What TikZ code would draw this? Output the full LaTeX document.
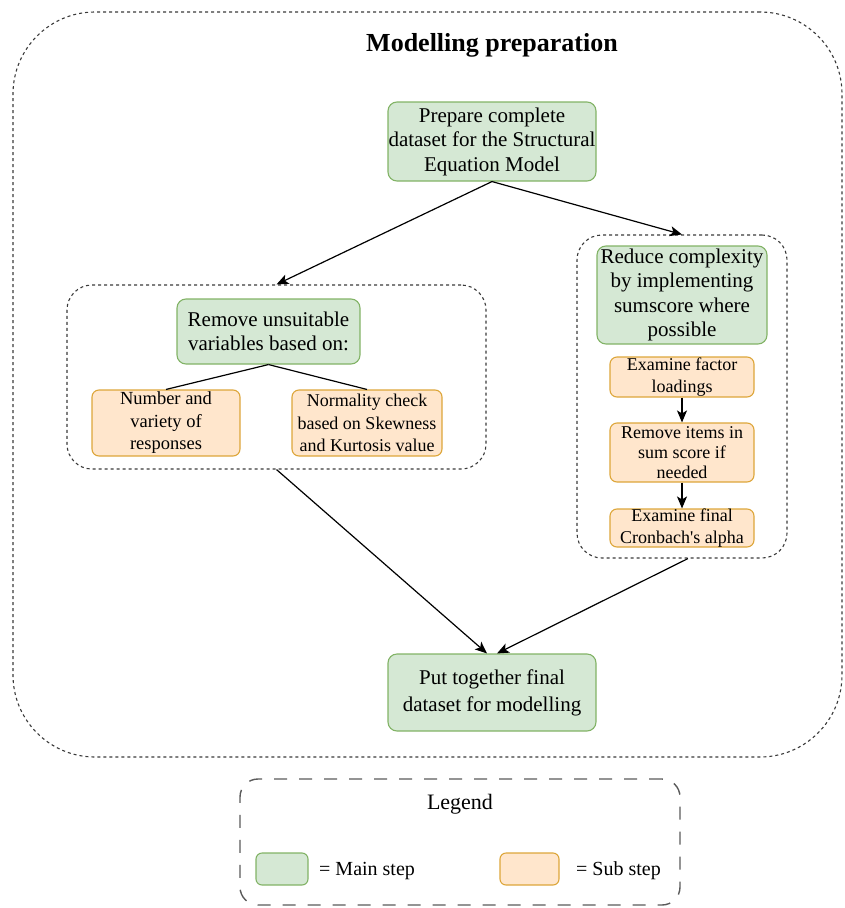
\documentclass[tikz,border=0pt]{standalone}
\usepackage{fontspec}
\setmainfont{Liberation Serif}
\usetikzlibrary{arrows.meta}
\definecolor{mainfill}{HTML}{D5E8D4}
\definecolor{maindraw}{HTML}{82B366}
\definecolor{subfill}{HTML}{FFE6CC}
\definecolor{subdraw}{HTML}{DDA63A}
\definecolor{groupline}{HTML}{3A3A3A}
\definecolor{legendline}{HTML}{5A5A5A}
\begin{document}
\begin{tikzpicture}[x=1pt,y=-1pt,
  mainstep/.style={draw=maindraw, fill=mainfill, line width=1.1pt, rounded corners=9pt,
    align=center, inner sep=0pt, font=\fontsize{21}{24.5}\selectfont},
  substep/.style={draw=subdraw, fill=subfill, line width=1.1pt, rounded corners=7pt,
    align=center, inner sep=0pt, font=\fontsize{18}{21.5}\selectfont},
  groupbox/.style={draw=groupline, dash pattern=on 3pt off 3pt, line width=1.1pt,
    rounded corners=25pt, inner sep=0pt},
  flow/.style={-{Stealth[length=12pt,width=10pt,inset=3pt]}, line width=1.2pt},
  link/.style={line width=1.2pt}
]
\useasboundingbox (0,0) rectangle (844,908);

% outer frame and title
\node[groupbox, rounded corners=82pt, minimum width=829pt, minimum height=745pt] (outer) at (427.5,384.5) {};
\node[font=\bfseries\fontsize{26}{30}\selectfont] (title) at (492,45) {Modelling preparation};

% top and bottom main steps
\node[mainstep, minimum width=208pt, minimum height=79pt] (prep) at (492,141.5)
  {Prepare complete\\dataset for the Structural\\Equation Model};
\node[mainstep, minimum width=208pt, minimum height=77pt, font=\fontsize{21}{27}\selectfont] (put) at (492,692.5)
  {Put together final\\dataset for modelling};

% left group: removing variables
\node[groupbox, minimum width=419pt, minimum height=184pt] (grpL) at (276.5,377) {};
\node[mainstep, minimum width=183pt, minimum height=65pt] (remove) at (268.5,331.5)
  {Remove unsuitable\\variables based on:};
\node[substep, minimum width=148pt, minimum height=66pt, font=\fontsize{18.5}{22.5}\selectfont] (num) at (166,423)
  {Number and\\variety of\\responses};
\node[substep, minimum width=150pt, minimum height=66pt, font=\fontsize{18}{22.5}\selectfont] (norm) at (367,423)
  {Normality check\\based on Skewness\\and Kurtosis value};

% right group: sum scores
\node[groupbox, minimum width=210pt, minimum height=323pt] (grpR) at (682,396.5) {};
\node[mainstep, minimum width=170pt, minimum height=98pt] (reduce) at (682,295)
  {Reduce complexity\\by implementing\\sumscore where\\possible};
\node[substep, minimum width=144pt, minimum height=40pt] (fact) at (682,377)
  {Examine factor\\loadings};
\node[substep, minimum width=144pt, minimum height=59pt, font=\fontsize{18}{20}\selectfont] (items) at (682,452.5)
  {Remove items in\\sum score if\\needed};
\node[substep, minimum width=144pt, minimum height=38pt] (final) at (682,528)
  {Examine final\\Cronbach\textquotesingle s alpha};

% connectors
\draw[flow] (prep.south) -- (grpL.north);
\draw[flow] (prep.south) -- (grpR.north);
\draw[link] (remove.south) -- (num.north);
\draw[link] (remove.south) -- (norm.north);
\draw[flow] (fact.south) -- (items.north);
\draw[flow] (items.south) -- (final.north);
\draw[flow] (grpL.south) -- ([xshift=-5pt]put.north);
\draw[flow] ([xshift=6pt]grpR.south) -- ([xshift=5pt]put.north);

% legend
\node[draw=legendline, dash pattern=on 13pt off 12pt, line width=1.4pt, rounded corners=18pt,
  minimum width=440pt, minimum height=126pt, inner sep=0pt] (legend) at (460,842) {};
\node[font=\fontsize{22}{26}\selectfont] (legendtitle) at (460,804) {Legend};
\node[mainstep, rounded corners=6pt, minimum width=52pt, minimum height=32pt] (keymain) at (282,869) {};
\node[anchor=west, font=\fontsize{20}{24}\selectfont, inner sep=0pt] (keymaintext) at (319,871) {= Main step};
\node[substep, rounded corners=6pt, minimum width=59pt, minimum height=32pt] (keysub) at (529.5,869) {};
\node[anchor=west, font=\fontsize{20}{24}\selectfont, inner sep=0pt] (keysubtext) at (576,871) {= Sub step};
\end{tikzpicture}
\end{document}
